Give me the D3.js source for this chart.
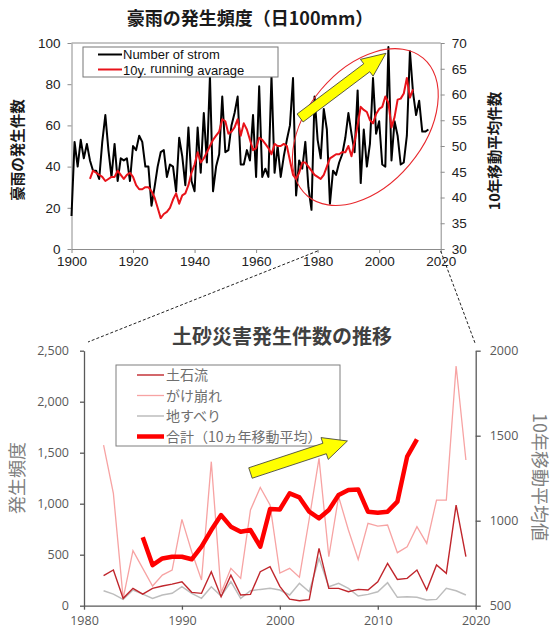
<!DOCTYPE html>
<html><head><meta charset="utf-8">
<script src="https://cdn.jsdelivr.net/npm/d3@7/dist/d3.min.js"></script>
<style>body{margin:0;background:#fff}svg{display:block}</style>
</head><body><svg id="c" width="553" height="634"></svg>
<script>
// ---------- top chart data ----------
const stormStart = 1900;
const stormCounts = [
 16,52,40,53,44,51,43,38,38,34,
 52,65,48,35,51,33,44,43,44,33,
 50,48,55,52,40,40,21,30,40,47,
 48,35,41,40,28,54,45,31,59,33,
 28,59,37,66,42,84,28,40,46,74,
 47,48,60,66,74,41,41,48,43,65,
 35,79,35,39,35,84,37,50,35,45,
 53,60,83,26,43,39,52,30,19,74,
 53,44,68,58,22,38,36,42,46,54,
 66,56,47,77,32,58,40,51,83,56,
 62,41,40,98,43,62,55,41,42,55,
 96,76,65,72,57,57,58];
const avgStart = 1906;
const runningAvg = [
 43.6,45.2,44.8,44.4,
 44.0,43.2,43.6,44.0,44.0,45.2,44.4,43.6,44.4,44.8,
 44.0,42.4,41.6,41.6,42.0,42.0,41.2,40.0,38.0,36.0,
 36.8,37.2,38.0,39.6,40.8,38.8,40.4,40.8,42.4,44.8,
 46.4,48.8,46.8,47.6,48.8,50.0,51.2,52.0,52.8,55.2,
 54.8,52.4,52.8,53.6,55.2,52.0,54.4,53.2,51.2,49.2,
 49.6,51.6,51.2,50.4,49.6,48.4,50.4,50.0,50.0,50.4,
 50.0,47.2,44.4,43.6,44.8,46.8,46.8,46.0,45.2,44.4,
 44.0,43.6,44.4,46.0,47.6,48.0,48.4,48.4,48.8,48.8,
 50.0,48.0,50.8,54.0,57.6,57.0,56.6,55.0,54.4,56.2,
 57.2,57.6,59.6,58.4,53.6,55.6,59.0,59.2,60.2,63.2,
 59.4,61.0];
const topYearTicks = [1900,1920,1940,1960,1980,2000,2020];
const topLeftTicks = [0,20,40,60,80,100];
const topRightTicks = [30,35,40,45,50,55,60,65,70];

// ---------- bottom chart data ----------
const disStart = 1982;
const debrisFlow = [294,350,72,170,114,170,193,212,235,131,
 121,333,88,300,105,111,333,382,190,65,
 49,60,562,170,170,137,160,154,235,415,
 258,268,350,154,399,317,987,480];
const slopeFailure = [1575,1101,72,539,366,193,300,350,846,529,
 252,1412,127,366,268,938,1160,987,320,366,
 280,850,1444,480,1069,742,454,807,781,791,
 520,578,775,611,1036,1036,2350,1428];
const landslide = [147,114,62,154,114,72,105,121,186,121,
 72,186,95,235,72,147,160,170,154,105,
 219,137,464,186,219,170,95,111,137,225,
 82,88,82,56,62,170,147,105];
const totalStart = 1986;
const totalAvg = [902,739,778,788,788,773,847,945,1033,965,
 935,945,847,1069,1066,1161,1137,1053,1014,1063,
 1151,1180,1184,1053,1047,1053,1112,1377,1479];
const botYearTicks = [1980,1990,2000,2010,2020];
const botLeftTicks = [0,500,1000,1500,2000,2500];
const botRightTicks = [500,1000,1500,2000];

const svg = d3.select('#c');
const LAT = '"Liberation Sans", Arial, sans-serif';
const JP = '"Noto Sans CJK JP", "Noto Sans", sans-serif';
const OS = '"Open Sans", "Noto Sans", sans-serif';

// arrow helper (block arrow between two pixel points)
function arrowPath(p0, p1, w, hw, hl) {
  const dx = p1[0]-p0[0], dy = p1[1]-p0[1], L = Math.hypot(dx,dy);
  const ux = dx/L, uy = dy/L, nx = -uy, ny = ux;
  const bx = p1[0]-ux*hl, by = p1[1]-uy*hl;
  const pts = [
    [p0[0]+nx*w, p0[1]+ny*w], [bx+nx*w, by+ny*w], [bx+nx*hw, by+ny*hw],
    p1, [bx-nx*hw, by-ny*hw], [bx-nx*w, by-ny*w], [p0[0]-nx*w, p0[1]-ny*w]];
  return 'M' + pts.map(p=>p.join(',')).join('L') + 'Z';
}

// =============== TOP CHART ===============
const xT = d3.scaleLinear().domain([1900,2020]).range([71.5,440.7]);
const yTL = d3.scaleLinear().domain([0,100]).range([249,43]);
const yTR = d3.scaleLinear().domain([30,70]).range([249,43]);
const gT = svg.append('g');

function styleTopAxis(g){
  g.selectAll('path,line').attr('stroke','#8c8c8c').attr('stroke-width',1);
  g.selectAll('text').attr('font-family',LAT).attr('font-size',13.5).attr('fill','#222');
}
gT.append('g').attr('transform','translate(0,249)')
  .call(d3.axisBottom(xT).tickValues(topYearTicks).tickFormat(d3.format('d')).tickSize(4).tickSizeOuter(0).tickPadding(3))
  .call(styleTopAxis);
gT.append('g').attr('transform','translate(71.5,0)')
  .call(d3.axisLeft(yTL).tickValues(topLeftTicks).tickSize(4).tickSizeOuter(0).tickPadding(7))
  .call(styleTopAxis);
gT.append('g').attr('transform','translate(440.7,0)')
  .call(d3.axisRight(yTR).tickValues(topRightTicks).tickSize(4).tickSizeOuter(0).tickPadding(7))
  .call(styleTopAxis);
gT.append('line').attr('x1',xT(1900)).attr('x2',xT(2020)).attr('y1',yTL(100)).attr('y2',yTL(100))
  .attr('stroke','#8c8c8c');

const lineStorm = d3.line().x((d,i)=>xT(stormStart+i)).y(d=>yTL(d));
const lineAvg = d3.line().x((d,i)=>xT(avgStart+i)).y(d=>yTR(d));
gT.append('path').attr('d',lineStorm(stormCounts)).attr('fill','none')
  .attr('stroke','#000').attr('stroke-width',2).attr('stroke-linejoin','round');
gT.append('path').attr('d',lineAvg(runningAvg)).attr('fill','none')
  .attr('stroke','#e8131a').attr('stroke-width',2).attr('stroke-linejoin','round');

// ellipse + arrow
gT.append('ellipse').attr('cx',xT(1995.5)).attr('cy',yTL(59.2)).attr('rx',90).attr('ry',58)
  .attr('transform',`rotate(-50 ${xT(1995.5)} ${yTL(59.2)})`)
  .attr('fill','none').attr('stroke','#e8282d').attr('stroke-width',1.1);
gT.append('path').attr('d',arrowPath([xT(1974.3),yTL(63.6)],[xT(2002.2),yTL(95)],5,10.5,24))
  .attr('fill','#ffff00').attr('stroke','#333').attr('stroke-width',0.8);

// legend
gT.append('rect').attr('x',83).attr('y',47).attr('width',195).attr('height',30)
  .attr('fill','#fff').attr('stroke','#777').attr('stroke-width',1);
gT.append('line').attr('x1',98).attr('x2',122).attr('y1',54.5).attr('y2',54.5).attr('stroke','#000').attr('stroke-width',2);
gT.append('line').attr('x1',98).attr('x2',122).attr('y1',69.5).attr('y2',69.5).attr('stroke','#e8131a').attr('stroke-width',2);
gT.append('text').attr('x',123).attr('y',59).attr('font-family',LAT).attr('font-size',13).attr('fill','#111')
  .text('Number of strom');
const lt = gT.append('text').attr('x',123).attr('y',74.5).attr('font-family',LAT).attr('font-size',13).attr('fill','#111');
lt.append('tspan').text('10y. ');
lt.append('tspan').attr('dy',-1.5).text('running ');
lt.append('tspan').attr('dy',1.5).text('avarage');

// titles
gT.append('text').attr('x',250).attr('y',25).attr('text-anchor','middle')
  .attr('font-family',JP).attr('font-weight','bold').attr('font-size',18).attr('fill','#1a1a1a')
  .text('豪雨の発生頻度（日100mm）');
gT.append('text').attr('transform','translate(23,150) rotate(-90)').attr('text-anchor','middle')
  .attr('font-family',JP).attr('font-weight','bold').attr('font-size',14.5).attr('fill','#1a1a1a')
  .text('豪雨の発生件数');
gT.append('text').attr('transform','translate(500,151) rotate(-90)').attr('text-anchor','middle')
  .attr('font-family',JP).attr('font-weight','bold').attr('font-size',14.5).attr('fill','#1a1a1a')
  .text('10年移動平均件数');

// dashed connectors
svg.append('line').attr('x1',xT(1980)).attr('y1',251).attr('x2',88).attr('y2',342)
  .attr('stroke','#222').attr('stroke-dasharray','3,2').attr('stroke-width',1);
svg.append('line').attr('x1',xT(2020)).attr('y1',251).attr('x2',475).attr('y2',343)
  .attr('stroke','#222').attr('stroke-dasharray','3,2').attr('stroke-width',1);

// =============== BOTTOM CHART ===============
const xB = d3.scaleLinear().domain([1980,2020]).range([84,475.7]);
const yBL = d3.scaleLinear().domain([0,2500]).range([605.7,350.7]);
const yBR = d3.scaleLinear().domain([500,2000]).range([605.7,350.7]);
const gB = svg.append('g');
function styleBotAxis(g){
  g.selectAll('path,line').attr('stroke','#595959').attr('stroke-width',1.3);
  g.selectAll('text').attr('font-family',OS).attr('font-size',12.5).attr('fill','#595959');
}
gB.append('g').attr('transform','translate(0,605.7)')
  .call(d3.axisBottom(xB).tickValues(botYearTicks).tickFormat(d3.format('d')).tickSize(4).tickSizeOuter(0).tickPadding(6))
  .call(styleBotAxis);
gB.append('g').attr('transform','translate(84,0)')
  .call(d3.axisLeft(yBL).tickValues(botLeftTicks).tickFormat(d3.format(',')).tickSize(4).tickSizeOuter(0).tickPadding(11))
  .call(styleBotAxis);
gB.append('g').attr('transform','translate(475.7,0)')
  .call(d3.axisRight(yBR).tickValues(botRightTicks).tickFormat(d3.format('d')).tickSize(5).tickSizeOuter(0).tickPadding(9))
  .call(styleBotAxis);

const lineB = start => d3.line().x((d,i)=>xB(start+i)).y(d=>yBL(d));
gB.append('path').attr('d',lineB(disStart)(slopeFailure)).attr('fill','none')
  .attr('stroke','#f7a3a3').attr('stroke-width',1.3);
gB.append('path').attr('d',lineB(disStart)(landslide)).attr('fill','none')
  .attr('stroke','#bdbdbd').attr('stroke-width',1.5);
gB.append('path').attr('d',lineB(disStart)(debrisFlow)).attr('fill','none')
  .attr('stroke','#c0262c').attr('stroke-width',1.4);
const lineTot = d3.line().x((d,i)=>xB(totalStart+i)).y(d=>yBR(d));
gB.append('path').attr('d',lineTot(totalAvg)).attr('fill','none')
  .attr('stroke','#ff0000').attr('stroke-width',4.5).attr('stroke-linejoin','round');

// legend
gB.append('rect').attr('x',116).attr('y',365).attr('width',224).attr('height',81)
  .attr('fill','#fff').attr('stroke','#7f7f7f').attr('stroke-width',1);
const legB = [
  {t:'土石流', c:'#c0262c', w:1.4},
  {t:'がけ崩れ', c:'#f7a3a3', w:1.3},
  {t:'地すべり', c:'#bdbdbd', w:1.5},
  {t:'合計（10ヵ年移動平均）', c:'#ff0000', w:4.5}];
legB.forEach((d,i)=>{
  const y = 375 + i*20.5;
  gB.append('line').attr('x1',137).attr('x2',164).attr('y1',y).attr('y2',y)
    .attr('stroke',d.c).attr('stroke-width',d.w);
  gB.append('text').attr('x',166).attr('y',y+5).attr('font-family',JP).attr('font-size',14)
    .attr('fill','#6f6f6f').text(d.t);
});

// arrow
gB.append('path').attr('d',arrowPath([xB(1997),yBL(1301)],[xB(2006.9),yBL(1615)],5.5,11.5,24))
  .attr('fill','#ffff00').attr('stroke','#333').attr('stroke-width',0.8);

// titles
gB.append('text').attr('x',282).attr('y',344).attr('text-anchor','middle')
  .attr('font-family',JP).attr('font-weight','bold').attr('font-size',20).attr('fill','#404040')
  .text('土砂災害発生件数の推移');
gB.append('text').attr('transform','translate(24,478) rotate(-90)').attr('text-anchor','middle')
  .attr('font-family',JP).attr('font-size',18).attr('fill','#7f7f7f').text('発生頻度');
gB.append('text').attr('transform','translate(533,477) rotate(90)').attr('text-anchor','middle')
  .attr('font-family',JP).attr('font-size',18).attr('fill','#7f7f7f').text('10年移動平均値');
</script></body></html>
